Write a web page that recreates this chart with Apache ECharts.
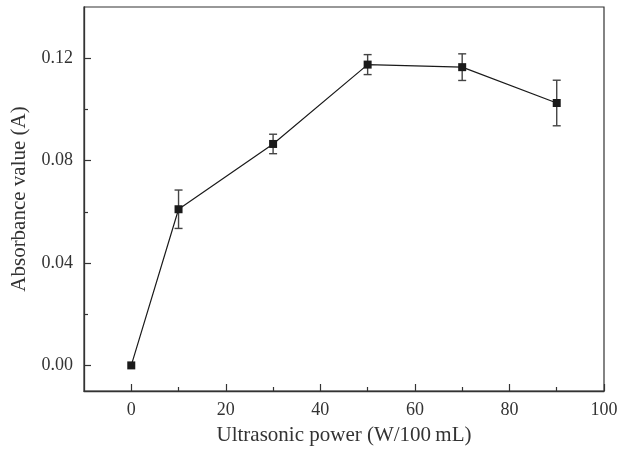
<!DOCTYPE html>
<html>
<head>
<meta charset="utf-8">
<script src="https://cdn.jsdelivr.net/npm/echarts@6/dist/echarts.min.js"></script>
<style>
html,body{margin:0;padding:0;background:#fff;}
#c{width:621px;height:451px;}
</style>
</head>
<body>
<div id="c"></div>
<script>
const powers = [0, 10, 30, 50, 70, 90];
const absorbance = [0.000, 0.061, 0.0865, 0.1175, 0.1165, 0.1025];
const errors = [0, 0.0075, 0.0038, 0.0039, 0.0052, 0.0089];
const xMajorTicks = [0, 20, 40, 60, 80, 100];
const xMinorTicks = [10, 30, 50, 70, 90];
const yMajorTicks = [0, 0.04, 0.08, 0.12];
const yMinorTicks = [0.02, 0.06, 0.10];

const FONT = '"Liberation Serif", "DejaVu Serif", serif';
const AX = '#333';

const chart = echarts.init(document.getElementById('c'));
chart.setOption({
  animation: false,
  backgroundColor: '#fff',
  grid: {left: 84, right: 17, top: 7, bottom: 60, show: true, borderColor: AX, borderWidth: 1.2, backgroundColor: 'transparent'},
  xAxis: [{
    type: 'value', min: -10, max: 100,
    name: 'Ultrasonic power (W/100\u2009mL)', nameLocation: 'middle', nameGap: 34,
    nameTextStyle: {fontFamily: FONT, fontSize: 21, color: '#333'},
    axisLine: {show: true, onZero: false, lineStyle: {color: AX, width: 1.3}},
    axisTick: {show: true, inside: true, length: 7, customValues: xMajorTicks, lineStyle: {color: AX, width: 1.2}},
    axisLabel: {customValues: xMajorTicks, margin: 10, fontFamily: FONT, fontSize: 18, color: '#333'},
    splitLine: {show: false}
  }, {
    type: 'value', min: -10, max: 100, position: 'bottom',
    axisLine: {show: false, onZero: false},
    axisTick: {show: true, inside: true, length: 4, customValues: xMinorTicks, lineStyle: {color: AX, width: 1.2}},
    axisLabel: {show: false},
    splitLine: {show: false}
  }],
  yAxis: [{
    type: 'value', min: -0.01, max: 0.14,
    name: 'Absorbance value (A)', nameLocation: 'middle', nameGap: 54,
    nameTextStyle: {fontFamily: FONT, fontSize: 21, color: '#333'},
    axisLine: {show: true, onZero: false, lineStyle: {color: AX, width: 1.3}},
    axisTick: {show: true, inside: true, length: 7, customValues: yMajorTicks, lineStyle: {color: AX, width: 1.2}},
    axisLabel: {customValues: yMajorTicks, margin: 11, fontFamily: FONT, fontSize: 18, color: '#333',
      formatter: v => Number(v).toFixed(2)},
    splitLine: {show: false}
  }, {
    type: 'value', min: -0.01, max: 0.14, position: 'left',
    axisLine: {show: false, onZero: false},
    axisTick: {show: true, inside: true, length: 4, customValues: yMinorTicks, lineStyle: {color: AX, width: 1.2}},
    axisLabel: {show: false},
    splitLine: {show: false}
  }],
  series: [{
    type: 'custom',
    z: 2,
    data: powers.map((p, i) => [p, absorbance[i] - errors[i], absorbance[i] + errors[i]]),
    renderItem: function (params, api) {
      if (api.value(2) - api.value(1) <= 0) return null;
      const lo = api.coord([api.value(0), api.value(1)]);
      const hi = api.coord([api.value(0), api.value(2)]);
      const hw = 4;
      const st = {stroke: '#444', lineWidth: 1.4};
      return {type: 'group', children: [
        {type: 'line', shape: {x1: lo[0], y1: lo[1], x2: hi[0], y2: hi[1]}, style: st},
        {type: 'line', shape: {x1: lo[0] - hw, y1: lo[1], x2: lo[0] + hw, y2: lo[1]}, style: st},
        {type: 'line', shape: {x1: hi[0] - hw, y1: hi[1], x2: hi[0] + hw, y2: hi[1]}, style: st}
      ]};
    },
    encode: {x: 0, y: [1, 2]}
  }, {
    type: 'line',
    z: 3,
    data: powers.map((p, i) => [p, absorbance[i]]),
    symbol: 'rect', symbolSize: 8,
    itemStyle: {color: '#1a1a1a'},
    lineStyle: {color: '#1a1a1a', width: 1.2}
  }]
});
</script>
</body>
</html>
